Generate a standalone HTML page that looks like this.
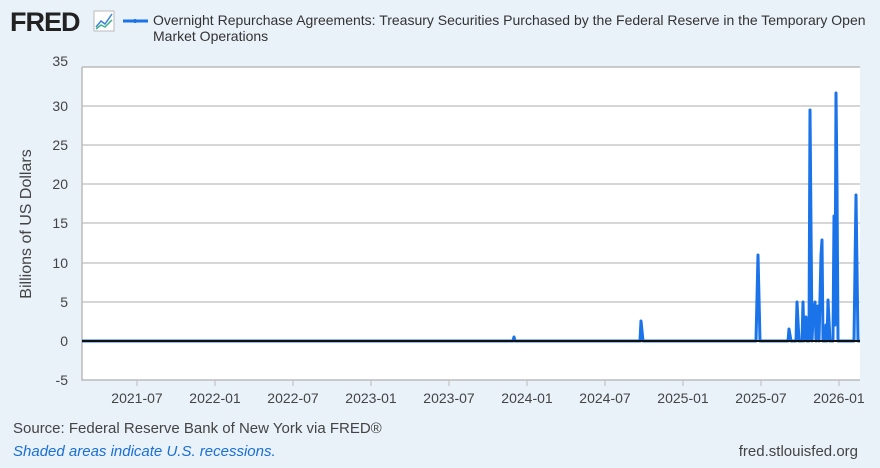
<!DOCTYPE html>
<html><head><meta charset="utf-8"><style>
body{margin:0;width:880px;height:463px;background:#e9f1f9;font-family:"Liberation Sans",sans-serif;overflow:hidden}
</style></head><body>
<svg width="880" height="463" xmlns="http://www.w3.org/2000/svg" font-family="Liberation Sans, sans-serif">
<rect width="880" height="463" fill="#e9f1f9"/>
<text x="10" y="31" font-size="27" font-weight="bold" fill="#222" letter-spacing="-1">FRED</text>
<rect x="94" y="11" width="20" height="20" fill="#fff" stroke="#bbb"/>
<polyline points="96,27 101,21 105,24 112,14" fill="none" stroke="#3b82d6" stroke-width="1.5"/>
<polyline points="96,29 101,25 105,27 112,20" fill="none" stroke="#3cb48a" stroke-width="1.5"/>
<line x1="123" y1="21" x2="148" y2="21" stroke="#1a73e8" stroke-width="3"/>
<circle cx="135" cy="21" r="2" fill="#1a73e8"/>
<text x="153" y="25" font-size="14" fill="#333">Overnight Repurchase Agreements: Treasury Securities Purchased by the Federal Reserve in the Temporary Open</text>
<text x="153" y="41" font-size="14" fill="#333">Market Operations</text>
<rect x="82" y="67" width="778" height="313" fill="#fff"/>
<g stroke="#c8c8c8" stroke-width="1.5">
<line x1="82" y1="106" x2="860" y2="106"/><line x1="82" y1="145" x2="860" y2="145"/>
<line x1="82" y1="184" x2="860" y2="184"/><line x1="82" y1="223" x2="860" y2="223"/>
<line x1="82" y1="263" x2="860" y2="263"/><line x1="82" y1="302" x2="860" y2="302"/>
</g>
<g stroke="#bbb" stroke-width="1.5" fill="none">
<polyline points="82,67 860,67"/><polyline points="82,67 82,380 860,380"/>
</g>
<g stroke="#bbb" stroke-width="1">
<line x1="137" y1="380" x2="137" y2="386"/><line x1="215" y1="380" x2="215" y2="386"/><line x1="293" y1="380" x2="293" y2="386"/><line x1="371" y1="380" x2="371" y2="386"/><line x1="449" y1="380" x2="449" y2="386"/><line x1="527" y1="380" x2="527" y2="386"/><line x1="605" y1="380" x2="605" y2="386"/><line x1="683" y1="380" x2="683" y2="386"/><line x1="761" y1="380" x2="761" y2="386"/><line x1="839" y1="380" x2="839" y2="386"/>
</g>
<g font-size="14" fill="#444" text-anchor="end">
<text x="68" y="66">35</text><text x="68" y="111">30</text><text x="68" y="150">25</text><text x="68" y="189">20</text><text x="68" y="228">15</text><text x="68" y="268">10</text><text x="68" y="307">5</text><text x="68" y="346">0</text><text x="68" y="385">-5</text>
</g>
<g font-size="14" fill="#444" text-anchor="middle">
<text x="137" y="403">2021-07</text><text x="215" y="403">2022-01</text><text x="293" y="403">2022-07</text><text x="371" y="403">2023-01</text><text x="449" y="403">2023-07</text><text x="527" y="403">2024-01</text><text x="605" y="403">2024-07</text><text x="683" y="403">2025-01</text><text x="761" y="403">2025-07</text><text x="839" y="403">2026-01</text>
</g>
<text transform="translate(31,224) rotate(-90)" font-size="16" fill="#444" text-anchor="middle">Billions of US Dollars</text>
<polyline fill="none" stroke="#1a73e8" stroke-width="3" stroke-linejoin="round" points="82,341 513,341 514,337 515,341 640,341 641,321 643,341 756,341 758,255 760,341 788,341 789,329 791,341 796,341 797,302 799,341 802,341 803,302 804,341 806,317 807,341 809,341 810,110 812,341 813,317 815,302 816,341 818,306 819,341 821,255 822,240 823,341 825,341 826,325 827,341 828,300 830,341 833,341 834,216 835,325 836,93 837,187 838,341 854,341 856,195 858,341 860,341"/>
<line x1="82" y1="341" x2="860" y2="341" stroke="#111" stroke-width="2"/>
<text x="13" y="433" font-size="15" fill="#444">Source: Federal Reserve Bank of New York via FRED®</text>
<text x="13" y="456" font-size="15" fill="#1a6fd6" font-style="italic">Shaded areas indicate U.S. recessions.</text>
<text x="858" y="456" font-size="15" fill="#444" text-anchor="end">fred.stlouisfed.org</text>
</svg>
</body></html>
